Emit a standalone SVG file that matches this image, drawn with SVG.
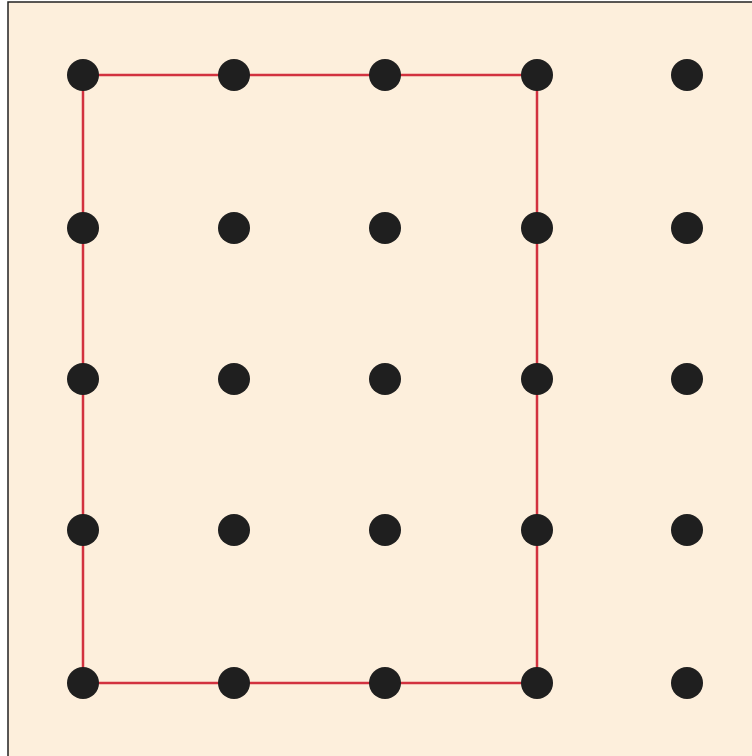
<svg xmlns="http://www.w3.org/2000/svg" width="752" height="756" viewBox="0 0 752 756">
<style>
.dot{fill:#1f1f1f}
.edge{fill:none;stroke:#d2323f;stroke-width:2.5}
</style>
<rect x="0" y="0" width="752" height="756" fill="#ffffff"/>
<rect x="8" y="2" width="760" height="760" fill="#fdefdc" stroke="#222222" stroke-width="1.5"/>
<g id="connectors">
<polyline class="edge" points="83,75 537,75 537,683 83,683 83,75"/>
</g>
<g id="dots">
<g id="r1"><circle class="dot" cx="83" cy="75" r="16"/><circle class="dot" cx="234" cy="75" r="16"/><circle class="dot" cx="385" cy="75" r="16"/><circle class="dot" cx="537" cy="75" r="16"/><circle class="dot" cx="687" cy="75" r="16"/></g>
<g id="r2"><circle class="dot" cx="83" cy="228" r="16"/><circle class="dot" cx="234" cy="228" r="16"/><circle class="dot" cx="385" cy="228" r="16"/><circle class="dot" cx="537" cy="228" r="16"/><circle class="dot" cx="687" cy="228" r="16"/></g>
<g id="r3"><circle class="dot" cx="83" cy="379" r="16"/><circle class="dot" cx="234" cy="379" r="16"/><circle class="dot" cx="385" cy="379" r="16"/><circle class="dot" cx="537" cy="379" r="16"/><circle class="dot" cx="687" cy="379" r="16"/></g>
<g id="r4"><circle class="dot" cx="83" cy="530" r="16"/><circle class="dot" cx="234" cy="530" r="16"/><circle class="dot" cx="385" cy="530" r="16"/><circle class="dot" cx="537" cy="530" r="16"/><circle class="dot" cx="687" cy="530" r="16"/></g>
<g id="r5"><circle class="dot" cx="83" cy="683" r="16"/><circle class="dot" cx="234" cy="683" r="16"/><circle class="dot" cx="385" cy="683" r="16"/><circle class="dot" cx="537" cy="683" r="16"/><circle class="dot" cx="687" cy="683" r="16"/></g>
</g>
</svg>
